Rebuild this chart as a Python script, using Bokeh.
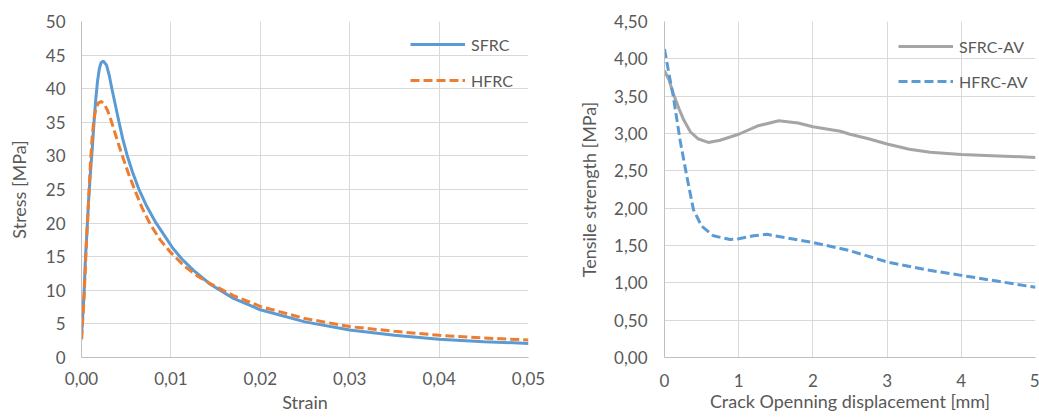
from bokeh.plotting import figure
from bokeh.layouts import row
from bokeh.models import Range1d, FixedTicker, CustomJSTickFormatter, Legend, LegendItem
from bokeh.embed import file_html
from bokeh.resources import INLINE

# ---------------- data: left chart (stress-strain) ----------------
sfrc_strain = [0.00002, 0.0001, 0.0002, 0.0003, 0.00045, 0.0006, 0.0008, 0.001, 0.0012,
               0.0014, 0.0016, 0.0018, 0.002, 0.0022, 0.00245, 0.0028, 0.0031, 0.0034,
               0.0038, 0.0042, 0.0046, 0.0051, 0.0057, 0.0064, 0.0073, 0.0083, 0.0093,
               0.0102, 0.0112, 0.0125, 0.0144, 0.017, 0.020, 0.025, 0.030, 0.035, 0.040,
               0.045, 0.050]
sfrc_stress = [3.5, 5.5, 7.5, 10.0, 15.0, 18.5, 23.5, 27.5, 31.0,
               35.0, 38.5, 41.2, 43.0, 43.9, 44.1, 43.5, 42.0, 40.0,
               37.5, 35.0, 32.6, 30.1, 27.6, 25.1, 22.5, 20.1, 18.1,
               16.3, 14.7, 13.0, 10.9, 8.8, 7.1, 5.3, 4.1, 3.3, 2.7,
               2.35, 2.1]

hfrc_strain = [0.00002, 0.0001, 0.0002, 0.0003, 0.00045, 0.0006, 0.0008, 0.001, 0.0012,
               0.0014, 0.0016, 0.0019, 0.0022, 0.0025, 0.0029, 0.0033, 0.0037, 0.0042,
               0.0047, 0.0053, 0.006, 0.0068, 0.0077, 0.0088, 0.010, 0.0115, 0.013,
               0.0144, 0.017, 0.020, 0.025, 0.030, 0.035, 0.040, 0.045, 0.050]
hfrc_stress = [2.7, 4.8, 7.0, 9.2, 14.0, 18.3, 23.5, 29.0, 33.0,
               35.5, 37.0, 37.9, 38.1, 37.8, 36.8, 35.3, 33.6, 31.5,
               29.5, 27.2, 24.8, 22.2, 19.8, 17.5, 15.6, 13.6, 12.1,
               11.0, 9.2, 7.6, 5.8, 4.6, 3.9, 3.3, 2.9, 2.6]

strain_ticks = [0.0, 0.01, 0.02, 0.03, 0.04, 0.05]
stress_ticks = [0, 5, 10, 15, 20, 25, 30, 35, 40, 45, 50]

# ---------------- data: right chart (tensile strength - COD) ----------------
sfrc_av_cod = [0.0, 0.06, 0.12, 0.2, 0.26, 0.35, 0.45, 0.59, 0.75, 1.0, 1.25, 1.54,
               1.8, 2.0, 2.37, 2.5, 2.75, 3.0, 3.3, 3.58, 4.0, 4.5, 5.0]
sfrc_av_ts = [3.84, 3.72, 3.53, 3.32, 3.18, 3.02, 2.93, 2.88, 2.91, 2.99, 3.10, 3.17,
              3.14, 3.09, 3.03, 2.99, 2.93, 2.86, 2.79, 2.75, 2.72, 2.70, 2.68]

hfrc_av_cod = [0.0, 0.06, 0.12, 0.21, 0.30, 0.39, 0.50, 0.66, 0.885, 1.0, 1.2, 1.38,
               1.6, 2.0, 2.37, 2.5, 3.0, 3.5, 4.0, 4.5, 5.0]
hfrc_av_ts = [4.13, 3.80, 3.49, 2.91, 2.43, 1.98, 1.76, 1.63, 1.58, 1.59, 1.63, 1.65,
              1.61, 1.54, 1.46, 1.43, 1.28, 1.18, 1.10, 1.02, 0.94]

cod_ticks = [0, 1, 2, 3, 4, 5]
ts_ticks = [0.0, 0.5, 1.0, 1.5, 2.0, 2.5, 3.0, 3.5, 4.0, 4.5]

FONT = "Lato"
TXT = "#595959"
GRID = "#d9d9d9"
AXIS = "#bfbfbf"

comma2 = CustomJSTickFormatter(code="return tick.toFixed(2).replace('.', ',');")


def style(p, xlabel, ylabel):
    p.outline_line_color = None
    p.background_fill_color = "white"
    p.border_fill_color = "white"
    for ax in (p.xaxis[0], p.yaxis[0]):
        ax.axis_line_color = AXIS
        ax.major_tick_line_color = None
        ax.minor_tick_line_color = None
        ax.major_tick_out = 0
        ax.major_tick_in = 0
        ax.minor_tick_out = 0
        ax.minor_tick_in = 0
        ax.major_label_text_font = FONT
        ax.major_label_text_font_size = "17px"
        ax.major_label_text_color = TXT
        ax.axis_label_text_font = FONT
        ax.axis_label_text_font_size = "18px"
        ax.axis_label_text_font_style = "normal"
        ax.axis_label_text_color = TXT
    p.xaxis[0].axis_label = xlabel
    p.yaxis[0].axis_label = ylabel
    p.xgrid.grid_line_color = GRID
    p.ygrid.grid_line_color = GRID


def style_legend(lg, spacing):
    lg.glyph_width = 55
    lg.glyph_height = 20
    lg.label_height = 20
    lg.spacing = spacing
    lg.padding = 0
    lg.margin = 0
    lg.label_standoff = 6
    lg.border_line_color = None
    lg.background_fill_alpha = 0
    lg.label_text_font = FONT
    lg.label_text_font_size = "16px"
    lg.label_text_color = TXT


# ---------------- left figure ----------------
p1 = figure(width=575, height=418, output_backend="svg", toolbar_location=None,
            x_range=Range1d(0, 0.05), y_range=Range1d(0, 50),
            min_border_left=81, min_border_right=47, min_border_top=21, min_border_bottom=61)
style(p1, "Strain", "Stress [MPa]")
p1.xaxis[0].ticker = FixedTicker(ticks=strain_ticks)
p1.yaxis[0].ticker = FixedTicker(ticks=stress_ticks)
p1.xaxis[0].formatter = comma2
p1.xaxis[0].major_label_standoff = 14
p1.xaxis[0].axis_label_standoff = 3
p1.yaxis[0].major_label_standoff = 16
p1.yaxis[0].axis_label_standoff = 13

r1 = p1.line(sfrc_strain, sfrc_stress, line_color="#5B9BD5", line_width=3)
r2 = p1.line(hfrc_strain, hfrc_stress, line_color="#ED7D31", line_width=3, line_dash="9 4")

leg1 = Legend(items=[LegendItem(label="SFRC", renderers=[r1]),
                     LegendItem(label="HFRC", renderers=[r2])],
              location=(329, 267))
style_legend(leg1, 16)
p1.add_layout(leg1)

# ---------------- right figure ----------------
p2 = figure(width=464, height=418, output_backend="svg", toolbar_location=None,
            x_range=Range1d(0, 5), y_range=Range1d(0, 4.5),
            min_border_left=89, min_border_right=4, min_border_top=21, min_border_bottom=61)
style(p2, "Crack Openning displacement [mm]", "Tensile strength [MPa]")
p2.xaxis[0].ticker = FixedTicker(ticks=cod_ticks)
p2.yaxis[0].ticker = FixedTicker(ticks=ts_ticks)
p2.yaxis[0].formatter = comma2
p2.xaxis[0].major_label_standoff = 16
p2.xaxis[0].axis_label_standoff = 0
p2.yaxis[0].major_label_standoff = 17
p2.yaxis[0].axis_label_standoff = 11

r3 = p2.line(sfrc_av_cod, sfrc_av_ts, line_color="#A5A5A5", line_width=3)
r4 = p2.line(hfrc_av_cod, hfrc_av_ts, line_color="#5B9BD5", line_width=3, line_dash="9 4")

leg2 = Legend(items=[LegendItem(label="SFRC-AV", renderers=[r3]),
                     LegendItem(label="HFRC-AV", renderers=[r4])],
              location=(234, 266))
style_legend(leg2, 15)
p2.add_layout(leg2)

layout = row(p1, p2)
open("out.html", "w").write(file_html(layout, INLINE))
